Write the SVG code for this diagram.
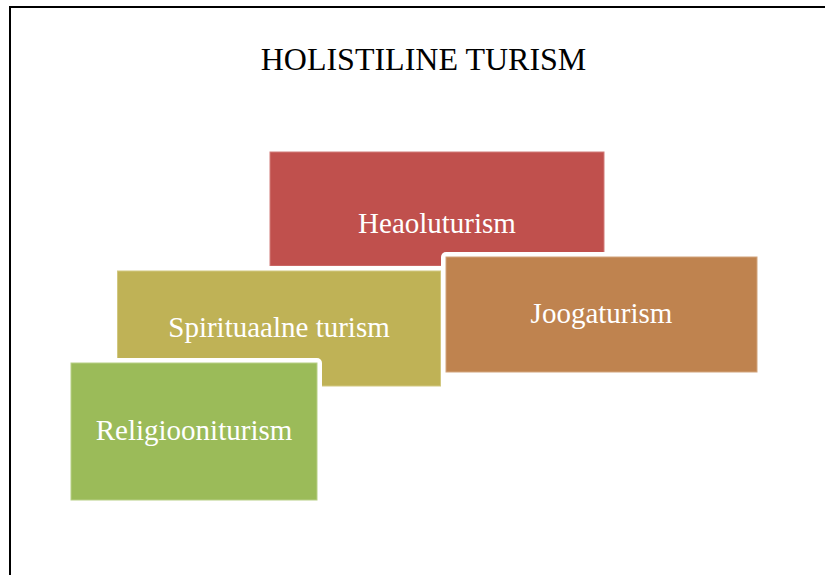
<svg xmlns="http://www.w3.org/2000/svg" width="825" height="575" viewBox="0 0 825 575">
<style>
.halo{fill:#FFFFFF}
.lbl{font-family:"Liberation Serif","Times New Roman",serif;font-size:29px;fill:#FFFFFF;text-anchor:middle}
.title{font-family:"Liberation Serif","Times New Roman",serif;font-size:32px;fill:#000000;text-anchor:middle}
</style>
<rect x="0" y="0" width="825" height="575" fill="#FFFFFF"/>
<rect x="10" y="7" width="840" height="600" fill="none" stroke="#000000" stroke-width="2"/>
<text class="title" x="423.5" y="70">HOLISTILINE TURISM</text>
<g id="connectors"></g>
<g id="node-heaoluturism">
<rect class="halo" x="265" y="147" width="344" height="124" rx="5"/>
<rect x="270" y="152" width="334" height="114" fill="#C0504D" stroke="#D27C7A" stroke-width="1"/>
<text class="lbl" x="437" y="233">Heaoluturism</text>
</g>
<g id="node-spirituaalne">
<rect class="halo" x="112.5" y="266" width="333" height="125" rx="5"/>
<rect x="117.5" y="271" width="323" height="115" fill="#BFB256" stroke="#D2C880" stroke-width="1"/>
<text class="lbl" x="279" y="337">Spirituaalne turism</text>
</g>
<g id="node-joogaturism">
<rect class="halo" x="441" y="252" width="321" height="125" rx="5"/>
<rect x="446" y="257" width="311" height="115" fill="#BF834F" stroke="#D2A47C" stroke-width="1"/>
<text class="lbl" x="601.5" y="323">Joogaturism</text>
</g>
<g id="node-religiooniturism">
<rect class="halo" x="66" y="358" width="256" height="147" rx="5"/>
<rect x="71" y="363" width="246" height="137" fill="#9BBB59" stroke="#B7CF86" stroke-width="1"/>
<text class="lbl" x="194" y="440">Religiooniturism</text>
</g>
</svg>
